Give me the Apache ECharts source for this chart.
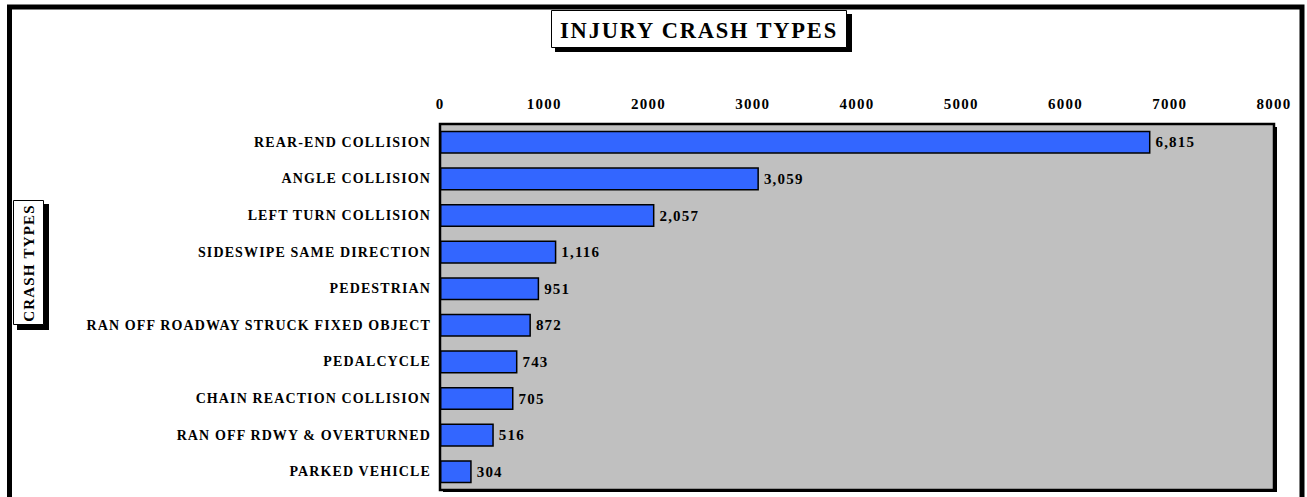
<!DOCTYPE html>
<html>
<head>
<meta charset="utf-8">
<script src="https://cdn.jsdelivr.net/npm/echarts@6/dist/echarts.min.js"></script>
<style>
  html, body { margin: 0; padding: 0; background: #fff; }
  #chart { width: 1307px; height: 497px; }
  #chart text { letter-spacing: 0.08em; }
</style>
</head>
<body>
<div id="chart"></div>
<script>
const categories = [
  'REAR-END COLLISION',
  'ANGLE COLLISION',
  'LEFT TURN COLLISION',
  'SIDESWIPE SAME DIRECTION',
  'PEDESTRIAN',
  'RAN OFF ROADWAY STRUCK FIXED OBJECT',
  'PEDALCYCLE',
  'CHAIN REACTION COLLISION',
  'RAN OFF RDWY & OVERTURNED',
  'PARKED VEHICLE'
];
const values = [6815, 3059, 2057, 1116, 951, 872, 743, 705, 516, 304];
const xTicks = { min: 0, max: 8000, interval: 1000 };
const titleText = 'INJURY CRASH TYPES';
const yAxisTitle = 'CRASH TYPES';

const FONT = "'Liberation Serif', 'Times New Roman', serif";
const chart = echarts.init(document.getElementById('chart'), null, { renderer: 'svg' });

const option = {
  animation: false,
  backgroundColor: '#ffffff',
  grid: {
    left: 440, top: 124, right: 33, bottom: 7,
    show: true,
    backgroundColor: '#C0C0C0',
    borderColor: '#000000',
    borderWidth: 2.5,
    containLabel: false
  },
  xAxis: {
    type: 'value',
    position: 'top',
    min: xTicks.min, max: xTicks.max, interval: xTicks.interval,
    axisLine: { show: false },
    axisTick: { show: false },
    splitLine: { show: false },
    axisLabel: {
      margin: 13,
      color: '#000',
      fontFamily: FONT,
      fontWeight: 'bold',
      fontSize: 15,
      formatter: v => String(v)
    }
  },
  yAxis: {
    type: 'category',
    data: categories,
    inverse: true,
    axisLine: { show: false },
    axisTick: { show: false },
    axisLabel: {
      margin: 9,
      color: '#000',
      fontFamily: FONT,
      fontWeight: 'bold',
      fontSize: 14
    }
  },
  series: [{
    type: 'bar',
    data: values,
    barCategoryGap: '37%',
    itemStyle: { color: '#3366FF', borderColor: '#000', borderWidth: 1.5 },
    label: {
      show: true,
      position: 'right',
      distance: 5,
      color: '#000',
      fontFamily: FONT,
      fontWeight: 'bold',
      fontSize: 15,
      formatter: p => p.value.toLocaleString('en-US')
    },
    z: 3
  }],
  graphic: [
    { type: 'rect', z: -1, silent: true,
      shape: { x: 443, y: 127, width: 834, height: 365 },
      style: { fill: '#000' } },
    { type: 'polyline', z: 10, silent: true,
      shape: { points: [[9.5, 497], [9.5, 7], [1302, 7], [1302, 497]] },
      style: { stroke: '#000', lineWidth: 5, fill: null } },
    { type: 'rect', z: 10, silent: true,
      shape: { x: 555, y: 14, width: 297, height: 38 },
      style: { fill: '#000' } },
    { type: 'rect', z: 11, silent: true,
      shape: { x: 551.5, y: 10.5, width: 295, height: 37 },
      style: { fill: '#fff', stroke: '#000', lineWidth: 1 } },
    { type: 'text', z: 12, silent: true,
      x: 699, y: 30,
      style: { text: titleText, fill: '#000', font: 'bold 22.5px ' + FONT,
               textAlign: 'center', textVerticalAlign: 'middle' } },
    { type: 'rect', z: 10, silent: true,
      shape: { x: 17, y: 204, width: 32, height: 126 },
      style: { fill: '#000' } },
    { type: 'rect', z: 11, silent: true,
      shape: { x: 13.5, y: 200.5, width: 30, height: 124 },
      style: { fill: '#fff', stroke: '#000', lineWidth: 1 } },
    { type: 'text', z: 12, silent: true,
      x: 29, y: 263, rotation: Math.PI / 2,
      style: { text: yAxisTitle, fill: '#000', font: 'bold 15px ' + FONT,
               textAlign: 'center', textVerticalAlign: 'middle' } }
  ]
};
chart.setOption(option);
</script>
</body>
</html>
